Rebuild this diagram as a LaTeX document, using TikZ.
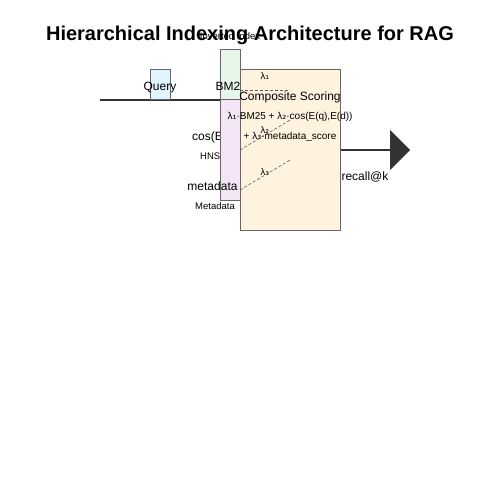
\documentclass[tikz,border=0pt]{standalone}
\usepackage{fontspec}
\setmainfont{Liberation Sans}
\newfontfamily\symfont{DejaVu Sans}
\usetikzlibrary{arrows.meta}
\definecolor{qblue}{HTML}{E1F5FE}
\definecolor{bmgreen}{HTML}{E8F5E9}
\definecolor{hpurple}{HTML}{F3E5F5}
\definecolor{sorange}{HTML}{FFF3E0}
\definecolor{edgegray}{HTML}{666666}
\definecolor{dark}{HTML}{333333}
\newcommand{\lam}[1]{λ{\symfont\char"208#1}}
\tikzset{
  blockbox/.style={draw=edgegray, line width=1pt},
  mainline/.style={draw=dark, line width=1.8pt},
  weightline/.style={draw=dark!80, dashed, line width=0.6pt, dash pattern=on 3pt off 2pt},
  lbl/.style={inner sep=0pt, text depth=0pt, font=\fontsize{12}{14}\selectfont},
  small/.style={inner sep=0pt, text depth=0pt, font=\fontsize{10}{12}\selectfont},
  tiny/.style={inner sep=0pt, text depth=0pt, font=\fontsize{9.5}{11}\selectfont},
}
\begin{document}
\begin{tikzpicture}[x=1pt,y=-1pt]
\useasboundingbox (0,0) rectangle (500,500);
\node[inner sep=0pt, text depth=0pt, font=\bfseries\fontsize{20}{24}\selectfont] (title) at (250,33) {Hierarchical Indexing Architecture for RAG};
\node[tiny] (inv) at (230,36) {Inverted Index};
% input line
\coordinate (start) at (100,100);
\coordinate (join) at (220,100);
\draw[mainline] (start) -- (join);
% query
\node[blockbox, fill=qblue, minimum width=20pt, minimum height=30pt, inner sep=0pt] (query) at (160,85) {};
\node[lbl] (qt) at (160,86) {Query};
% BM25 block
\node[blockbox, fill=bmgreen, minimum width=20pt, minimum height=50pt, inner sep=0pt] (bm) at (230,75) {};
\node[lbl, anchor=west] (bmt) at (215.5,86) {BM25};
% dense label (hidden)
\node[lbl, anchor=west] (cost) at (192,136) {cos(E(q),E(d))};
\node[tiny, anchor=west] (hnsw) at (200,156) {HNSW};
% HNSW block
\node[blockbox, fill=hpurple, minimum width=20pt, minimum height=100pt, inner sep=0pt] (hn) at (230,150) {};
\node[lbl] (meta) at (212.5,186) {metadata};
\node[tiny] (metab) at (215,206) {Metadata};
% scoring block
\node[blockbox, fill=sorange, minimum width=100pt, minimum height=160pt, inner sep=0pt] (score) at (290,150) {};
\node[tiny] (l1) at (265,76) {\lam1};
\node[tiny] (l2) at (265,130) {\lam2};
\node[tiny] (l3) at (265,172) {\lam3};
\coordinate (w1a) at (240,90); \coordinate (w1b) at (290,90);
\coordinate (w2a) at (240,150); \coordinate (w2b) at (290,120);
\coordinate (w3a) at (240,190); \coordinate (w3b) at (290,160);
\draw[weightline] (w1a) -- (w1b);
\draw[weightline] (w2a) -- (w2b);
\draw[weightline] (w3a) -- (w3b);
\node[lbl] (cs) at (290,96) {Composite Scoring};
\node[small] (f1) at (290,116) {\lam1·BM25 + \lam2·cos(E(q),E(d))};
\node[small] (f2) at (290,136) {+ \lam3·metadata\_score};
% output
\coordinate (out) at (410,150);
\draw[mainline, -{Triangle[length=20pt,width=40pt]}] (score.east) -- (out);
\node[lbl] (rk) at (365,176) {recall@k};
\end{tikzpicture}
\end{document}
